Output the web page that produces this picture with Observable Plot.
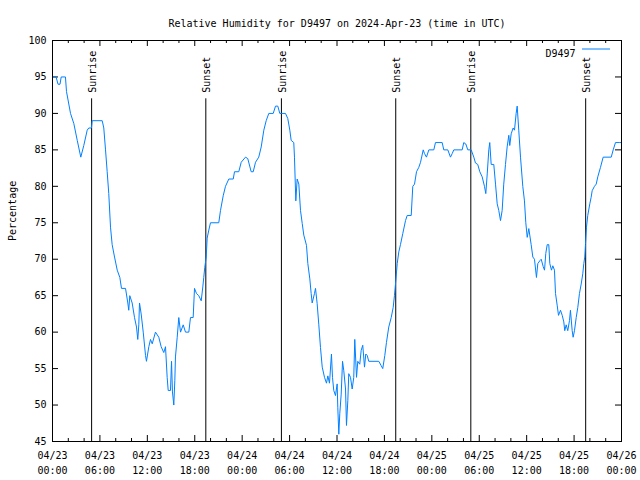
<!DOCTYPE html>
<html>
<head>
<meta charset="utf-8">
<script src="https://cdn.jsdelivr.net/npm/d3@7"></script>
<script src="https://cdn.jsdelivr.net/npm/@observablehq/plot@0.6"></script>
<style>
  html, body { margin: 0; padding: 0; background: white; }
</style>
</head>
<body>
<div id="chart"></div>
<script>
// Hours since 2024-04-23 00:00 UTC
const hours = [
  0, 0.45, 0.70, 0.95, 1.10, 1.64, 1.77, 2.28, 2.70, 3.13, 3.58, 3.96, 4.39, 4.59, 4.93, 5.02, 6.29,
  6.49, 6.71, 6.92, 7.12, 7.34, 7.55, 7.85, 8.19, 8.52, 8.73, 9.24, 9.53, 9.65, 9.78, 10.08, 10.38,
  10.63, 10.79, 10.92, 11.01, 11.22, 11.48, 11.77, 11.89, 12.19, 12.40, 12.62, 13.03, 13.45, 13.75,
  14.08, 14.30, 14.51, 14.64, 14.93, 15.06, 15.18, 15.35, 15.48, 15.56, 15.78, 15.98, 16.20, 16.54,
  16.83, 17.25, 17.46, 17.80, 17.97, 18.22, 18.51, 18.82, 19.02, 19.14, 19.27, 19.45, 19.57, 19.78,
  19.99, 21.04, 21.26, 21.60, 21.89, 22.31, 22.87, 23.03, 23.57, 23.88, 24.42, 24.71, 25.14, 25.40,
  25.69, 26.10, 26.41, 26.74, 27.04, 27.37, 27.93, 28.22, 28.51, 28.76, 29.48, 29.77, 30.03, 30.20,
  30.53, 30.62, 30.79, 30.96, 31.17, 31.38, 31.60, 31.80, 32.14, 32.31, 32.56, 32.73, 32.86, 33.15,
  33.28, 33.49, 33.70, 33.91, 34.13, 34.42, 34.67, 34.84, 35.05, 35.30, 35.43, 35.59, 35.81, 36.02,
  36.10, 36.23, 36.35, 36.53, 36.70, 36.86, 37.08, 37.20, 37.37, 37.49, 37.71, 37.92, 38.12, 38.25,
  38.47, 38.63, 38.88, 39.06, 39.26, 39.48, 39.64, 39.82, 40.02, 41.29, 41.59, 41.79, 42.05, 42.26,
  42.55, 42.86, 43.11, 43.27, 43.44, 43.62, 43.82, 44.03, 44.32, 44.67, 44.88, 45.39, 45.59, 45.81,
  46.06, 46.35, 46.57, 46.91, 47.07, 47.32, 47.62, 48.25, 48.46, 49.31, 49.51, 50.02, 50.36, 50.58,
  50.78, 51.84, 52.04, 52.30, 52.55, 52.98, 53.31, 53.52, 53.81, 54.07, 54.37, 54.66, 54.83, 55.01,
  55.21, 55.33, 55.51, 55.84, 56.06, 56.27, 56.47, 56.69, 56.90, 57.10, 57.32, 57.53, 57.74, 57.86,
  58.04, 58.29, 58.46, 58.67, 58.80, 59.00, 59.22, 59.51, 59.72, 59.89, 60.07, 60.27, 60.57, 60.78,
  60.99, 61.24, 61.41, 61.67, 61.84, 62.09, 62.26, 62.42, 62.60, 62.80, 62.93, 63.14, 63.31, 63.52,
  63.65, 63.86, 64.03, 64.28, 64.50, 64.70, 64.82, 65.00, 65.20, 65.42, 65.54, 65.76, 65.88, 66.05,
  66.27, 66.47, 66.68, 66.90, 67.10, 67.23, 67.35, 67.44, 67.57, 67.73, 67.99, 68.16, 68.29, 68.58,
  68.80, 69.00, 69.34, 69.68, 70.70, 70.95, 71.24, 71.79, 72
];
const humidity = [
  95, 95, 94, 94, 95, 95, 93, 90, 88.6, 86.3, 84, 85.6, 87.7, 88, 88, 89, 89,
  88, 85, 82, 79, 74.4, 72, 70.3, 68.5, 67.5, 66, 66, 64, 63, 65, 64, 62,
  60.7, 59, 61, 64, 62.5, 60, 56.8, 56, 58, 59, 58.4, 60, 59.3, 58,
  57.2, 58, 53.8, 52, 52, 56, 51.8, 50, 53.4, 56.6, 59.3, 62, 60, 61,
  60, 60, 62, 62, 66, 65.3, 65, 64.3, 66.2, 67.5, 68.9, 70.3, 72.9, 74,
  75, 75, 76.7, 78.7, 80, 81, 81, 82, 82, 83.3, 84, 83.8, 82, 82,
  83.3, 84, 85.4, 87.7, 89, 90, 90, 91, 91, 90, 90, 89.3, 87.7, 86.3,
  86, 84, 78, 81, 80.3, 76.7, 74.9, 73.3, 71.9, 69.4, 67.3, 65.3, 64, 65.3,
  66, 63.9, 61, 57.9, 55.2, 53.8, 53, 54, 53, 57, 53.8, 52, 51.3, 52.9,
  49.7, 46, 48.8, 51.5, 56, 54.7, 52.2, 47.2, 50.6, 54.3, 53.8, 52.2, 53.8, 59,
  53.8, 56, 55.6, 57.5, 58.2, 55.2, 57, 56.8, 56, 56, 55.4, 55, 56.8, 58.6,
  60.7, 62, 63.4, 65, 67.1, 69.4, 71, 72, 73.5, 75.3, 76, 76, 80, 80.3,
  82, 82.6, 83.3, 85, 84.5, 84, 85, 85, 86, 86, 85, 85, 84, 84.5,
  85, 85, 86, 85.8, 85, 85, 84, 83.2, 83, 82, 81.3, 80, 79, 81.7,
  85, 86, 83, 83, 80.3, 77.6, 76.7, 75.3, 76.7, 80.3, 83, 85.4, 87, 85.6,
  87.2, 88, 87.7, 90, 91, 87.7, 84, 80, 78, 75, 73, 74.2, 72, 70.3,
  70, 67.5, 69.4, 69.8, 70, 69, 68.5, 70.8, 72, 72, 69.4, 68.5, 69.1, 68.5,
  65.3, 63.7, 62.3, 63, 62.3, 61.4, 60.2, 61, 60.2, 61.6, 63, 60.2, 59.3, 60.2,
  62, 63.4, 65.3, 66.6, 68, 69.4, 70.3, 72, 74.4, 76, 77.6, 78.5, 79.4, 80,
  80.3, 81.3, 82.6, 84, 84, 85, 86, 86, 86
];
const sunEvents = ["2024-04-23T04:57Z", "2024-04-23T19:24Z", "2024-04-24T04:58Z", "2024-04-24T19:26Z", "2024-04-25T04:56Z", "2024-04-25T19:28Z"];
const sunLabels = ["Sunrise", "Sunset", "Sunrise", "Sunset", "Sunrise", "Sunset"];
const yTicks = [45, 50, 55, 60, 65, 70, 75, 80, 85, 90, 95, 100];
const titleText = "Relative Humidity for D9497 on 2024-Apr-23 (time in UTC)";
const yLabel = "Percentage";
const seriesName = "D9497";

const start = Date.UTC(2024, 3, 23);
const data = hours.map((h, i) => ({t: new Date(start + h * 3600e3), v: humidity[i]}));
const sun = sunEvents.map((s, i) => ({t: new Date(s), label: sunLabels[i]}));
const domainX = [new Date(start), new Date(start + 72 * 3600e3)];
const majorX = d3.utcHour.every(6).range(domainX[0], new Date(+domainX[1] + 1));
const minorX = d3.utcHour.every(2).range(domainX[0], new Date(+domainX[1] + 1)).filter(d => d.getUTCHours() % 6 !== 0);

const W = 640, H = 480, mt = 40, ml = 52, mr = 19, mb = 39;
const fh = H - mt - mb, fw = W - ml - mr;
const lineColor = "#0080ff";
const majorLen = 6, minorLen = 3;

const plot = Plot.plot({
  width: W, height: H,
  marginTop: mt, marginLeft: ml, marginRight: mr, marginBottom: mb,
  style: {fontFamily: "'DejaVu Sans Mono', monospace", fontSize: "10px", background: "white", color: "black", overflow: "visible"},
  x: {type: "utc", domain: domainX},
  y: {domain: [45, 100]},
  marks: [
    Plot.axisX({ticks: majorX, tickSize: 0, tickPadding: 7, lineHeight: 1.5, tickFormat: d3.utcFormat("%m/%d\n%H:%M"), label: null, fill: "black"}),
    Plot.axisY({ticks: yTicks, tickSize: 0, tickPadding: 6, label: null, fill: "black"}),
    // inward ticks: bottom & top (x), left & right (y)
    Plot.tickX(majorX, {x: d => d, insetTop: fh - majorLen, stroke: "black"}),
    Plot.tickX(majorX, {x: d => d, insetBottom: fh - majorLen, stroke: "black"}),
    Plot.tickX(minorX, {x: d => d, insetTop: fh - minorLen, stroke: "black"}),
    Plot.tickX(minorX, {x: d => d, insetBottom: fh - minorLen, stroke: "black"}),
    Plot.tickY(yTicks, {y: d => d, insetRight: fw - majorLen, stroke: "black"}),
    Plot.tickY(yTicks, {y: d => d, insetLeft: fw - majorLen, stroke: "black"}),
    // sunrise / sunset
    Plot.ruleX(sun, {x: "t", y1: 45, y2: 92, stroke: "black", strokeWidth: 1}),
    Plot.text(sun, {x: "t", y: 92, text: "label", rotate: -90, textAnchor: "start", lineAnchor: "middle", dx: 1, dy: -6, fill: "black"}),
    // series
    Plot.line(data, {x: "t", y: "v", stroke: lineColor, strokeWidth: 1}),
    Plot.frame({stroke: "black"}),
    // title, y label, legend
    Plot.text([titleText], {frameAnchor: "top", dy: -21, fill: "black"}),
    Plot.text([yLabel], {frameAnchor: "left", dx: -40, rotate: -90, fill: "black"}),
    Plot.text([seriesName], {frameAnchor: "top-right", dx: -46, dy: 9, textAnchor: "end", fill: "black"})
  ]
});

const svg = d3.select(plot);
svg.append("line")
  .attr("x1", W - mr - 39).attr("x2", W - mr - 11)
  .attr("y1", mt + 9).attr("y2", mt + 9)
  .attr("stroke", lineColor).attr("stroke-width", 1);

document.getElementById("chart").appendChild(plot);
</script>
</body>
</html>
